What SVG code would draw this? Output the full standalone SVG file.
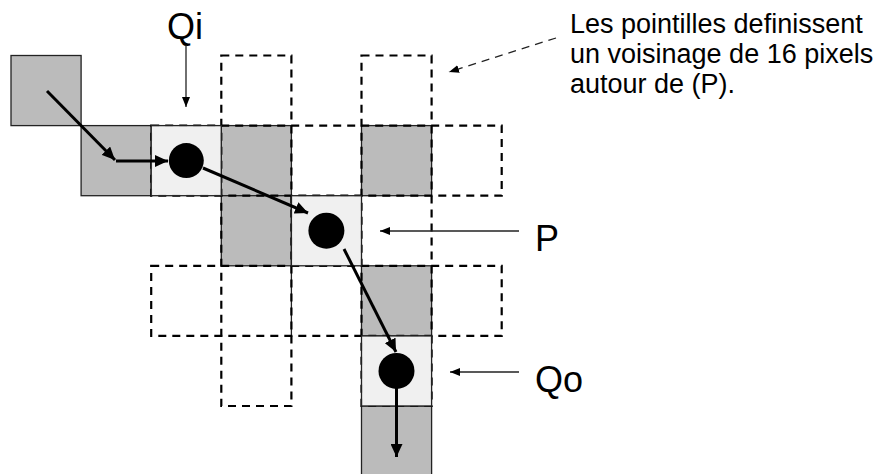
<svg xmlns="http://www.w3.org/2000/svg" width="882" height="474" viewBox="0 0 882 474">
<defs>
<style>
.g{fill:#bbbbbb;stroke:#222;stroke-width:1.3}
.l{fill:#eeeeee;fill-opacity:0.88;stroke:#222;stroke-width:1.3}
.d{fill:none;stroke:#000;stroke-width:2.2;stroke-dasharray:8 6}
.s{fill:none;stroke:#222;stroke-width:1.3}
.dot{fill:#000}
.ta{stroke:#000;stroke-width:3;fill:none;marker-end:url(#big)}
.tn{stroke:#222;stroke-width:1.3;fill:none;marker-end:url(#small)}
.lbl{font-family:"Liberation Sans",Arial,sans-serif;fill:#000}
</style>
<marker id="big" markerUnits="userSpaceOnUse" markerWidth="14" markerHeight="12" refX="13" refY="6" orient="auto"><path d="M0,0 L13,6 L0,12 z" fill="#000"/></marker>
<marker id="small" markerUnits="userSpaceOnUse" markerWidth="11" markerHeight="8" refX="10" refY="4" orient="auto"><path d="M0,0 L10,4 L0,8 z" fill="#000"/></marker>
</defs>
<rect width="882" height="474" fill="#fff"/>
<g id="cells-gray">
<rect class="g" x="11" y="55.5" width="70.1" height="70.1"/>
<rect class="g" x="81.1" y="125.6" width="70.1" height="70.1"/>
<rect class="g" x="221.3" y="125.6" width="70.1" height="70.1"/>
<rect class="g" x="361.5" y="125.6" width="70.1" height="70.1"/>
<rect class="g" x="221.3" y="195.7" width="70.1" height="70.1"/>
<rect class="g" x="361.5" y="265.8" width="70.1" height="70.1"/>
<rect class="g" x="361.5" y="406" width="70.1" height="70.1"/>
<line class="s" x1="291.4" y1="265.8" x2="291.4" y2="335.9"/>
</g>
<g id="neighbourhood">
<rect class="d" x="221.3" y="55.5" width="70.1" height="350.5"/>
<rect class="d" x="361.5" y="55.5" width="70.1" height="350.5"/>
<rect class="d" x="151.2" y="125.6" width="350.5" height="70.1"/>
<rect class="d" x="151.2" y="265.8" width="350.5" height="70.1"/>
</g>
<g id="Qi">
<rect class="l" x="151.2" y="125.6" width="70.1" height="70.1"/>
<circle class="dot" cx="186.3" cy="160.6" r="17.5"/>
<text class="lbl" x="167" y="39" font-size="36">Qi</text>
</g>
<g id="P">
<rect class="l" x="291.4" y="195.7" width="70.1" height="70.1"/>
<circle class="dot" cx="326.4" cy="230.7" r="18"/>
<text class="lbl" x="535" y="251" font-size="36">P</text>
</g>
<g id="Qo">
<rect class="l" x="361.5" y="335.9" width="70.1" height="70.1"/>
<circle class="dot" cx="396.5" cy="370.9" r="18"/>
<text class="lbl" x="535" y="392" font-size="36">Qo</text>
</g>
<g id="note">
<text class="lbl" font-size="27"><tspan x="570" y="33">Les pointilles definissent</tspan><tspan x="570" y="63">un voisinage de 16 pixels</tspan><tspan x="570" y="93">autour de (P).</tspan></text>
</g>
<g id="connectors">
<line class="ta" x1="47" y1="91" x2="115" y2="160"/>
<line class="ta" x1="116" y1="161" x2="168" y2="161"/>
<line class="ta" x1="203" y1="168" x2="308" y2="213"/>
<line class="ta" x1="344" y1="249" x2="396" y2="352"/>
<line class="ta" x1="396.5" y1="388" x2="396.5" y2="457"/>
<line class="tn" x1="186" y1="45" x2="186" y2="107"/>
<line class="tn" x1="519" y1="231" x2="380" y2="231"/>
<line class="tn" x1="519" y1="372" x2="450" y2="372"/>
<line class="tn" x1="556" y1="38" x2="449" y2="72" stroke-dasharray="8 6"/>
</g>
</svg>
